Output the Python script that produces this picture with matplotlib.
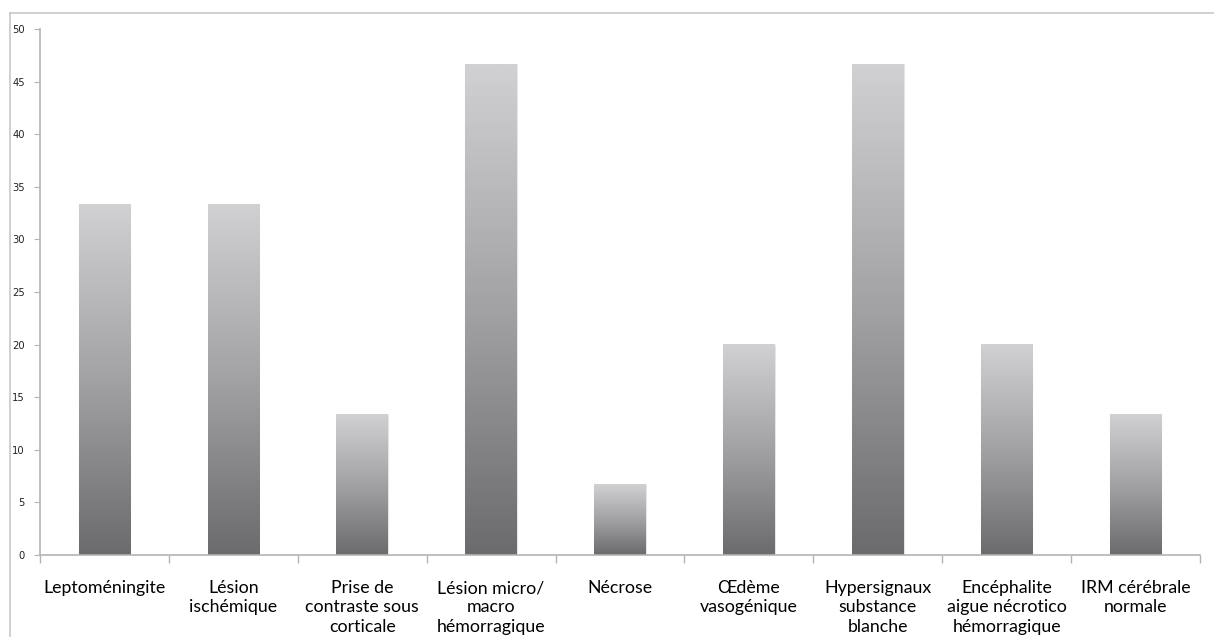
import numpy as np
import matplotlib
matplotlib.use("Agg")
import matplotlib.pyplot as plt
from matplotlib.colors import LinearSegmentedColormap
from matplotlib.lines import Line2D

categories = [
    "Leptoméningite",
    "Lésion\nischémique",
    "Prise de\ncontraste sous\ncorticale",
    "Lésion micro/\nmacro\nhémorragique",
    "Nécrose",
    "Œdème\nvasogénique",
    "Hypersignaux\nsubstance\nblanche",
    "Encéphalite\naigue nécrotico\nhémorragique",
    "IRM cérébrale\nnormale",
]
values = [33.33, 33.33, 13.33, 46.67, 6.67, 20.0, 46.67, 20.0, 13.33]
yticks = [0, 5, 10, 15, 20, 25, 30, 35, 40, 45, 50]

W, H = 1215, 637
fig = plt.figure(figsize=(W / 100, H / 100), dpi=100)
ax = fig.add_axes([40 / W, (H - 555) / H, (1200 - 40) / W, (555 - 29) / H])

cmap = LinearSegmentedColormap.from_list("bar_grad", ["#6b6b6e", "#a2a2a4", "#d1d1d3"])
grad = np.linspace(0, 1, 256).reshape(-1, 1)

n = len(categories)
x = np.arange(n)
bw = 0.40
for xi, v in zip(x, values):
    ax.imshow(grad, cmap=cmap, origin="lower", aspect="auto",
              extent=(xi - bw / 2, xi + bw / 2, 0, v), zorder=2)
    ax.plot([xi - bw / 2, xi - bw / 2, xi + bw / 2, xi + bw / 2],
            [0, v, v, 0], color="#e6e6e6", lw=0.8, zorder=1.5)

ax.set_xlim(-0.5, n - 0.5)
ax.set_ylim(0, 50)

axis_color = "#b4b4b4"
for side in ("top", "right"):
    ax.spines[side].set_visible(False)
for side in ("left", "bottom"):
    ax.spines[side].set_color(axis_color)
    ax.spines[side].set_linewidth(1.2)

ax.set_yticks(yticks)
ax.set_yticklabels([str(t) for t in yticks], fontsize=7.2, color="#222222",
                   family="DejaVu Sans")
ax.tick_params(axis="y", direction="out", length=4, color=axis_color, pad=7)

# category boundaries carry the ticks; labels sit centred under each bar
ax.set_xticks(np.arange(n + 1) - 0.5)
ax.set_xticklabels([])
ax.tick_params(axis="x", direction="out", length=6, color=axis_color, width=1)
for xi, lab in zip(x, categories):
    ax.text(xi, -2.4, lab, ha="center", va="top", fontsize=12.8,
            family="Lato", color="#000000", linespacing=1.25,
            transform=ax.transData, clip_on=False)

# light outer frame around the chart area
fig.add_artist(Line2D([10.5 / W, 10.5 / W], [0, (H - 13) / H],
                      transform=fig.transFigure, color="#c8c8c8", lw=1.2))
fig.add_artist(Line2D([10.5 / W, 1213 / W], [(H - 13) / H, (H - 13) / H],
                      transform=fig.transFigure, color="#c8c8c8", lw=1.2))

fig.savefig("out.png", dpi=100)
